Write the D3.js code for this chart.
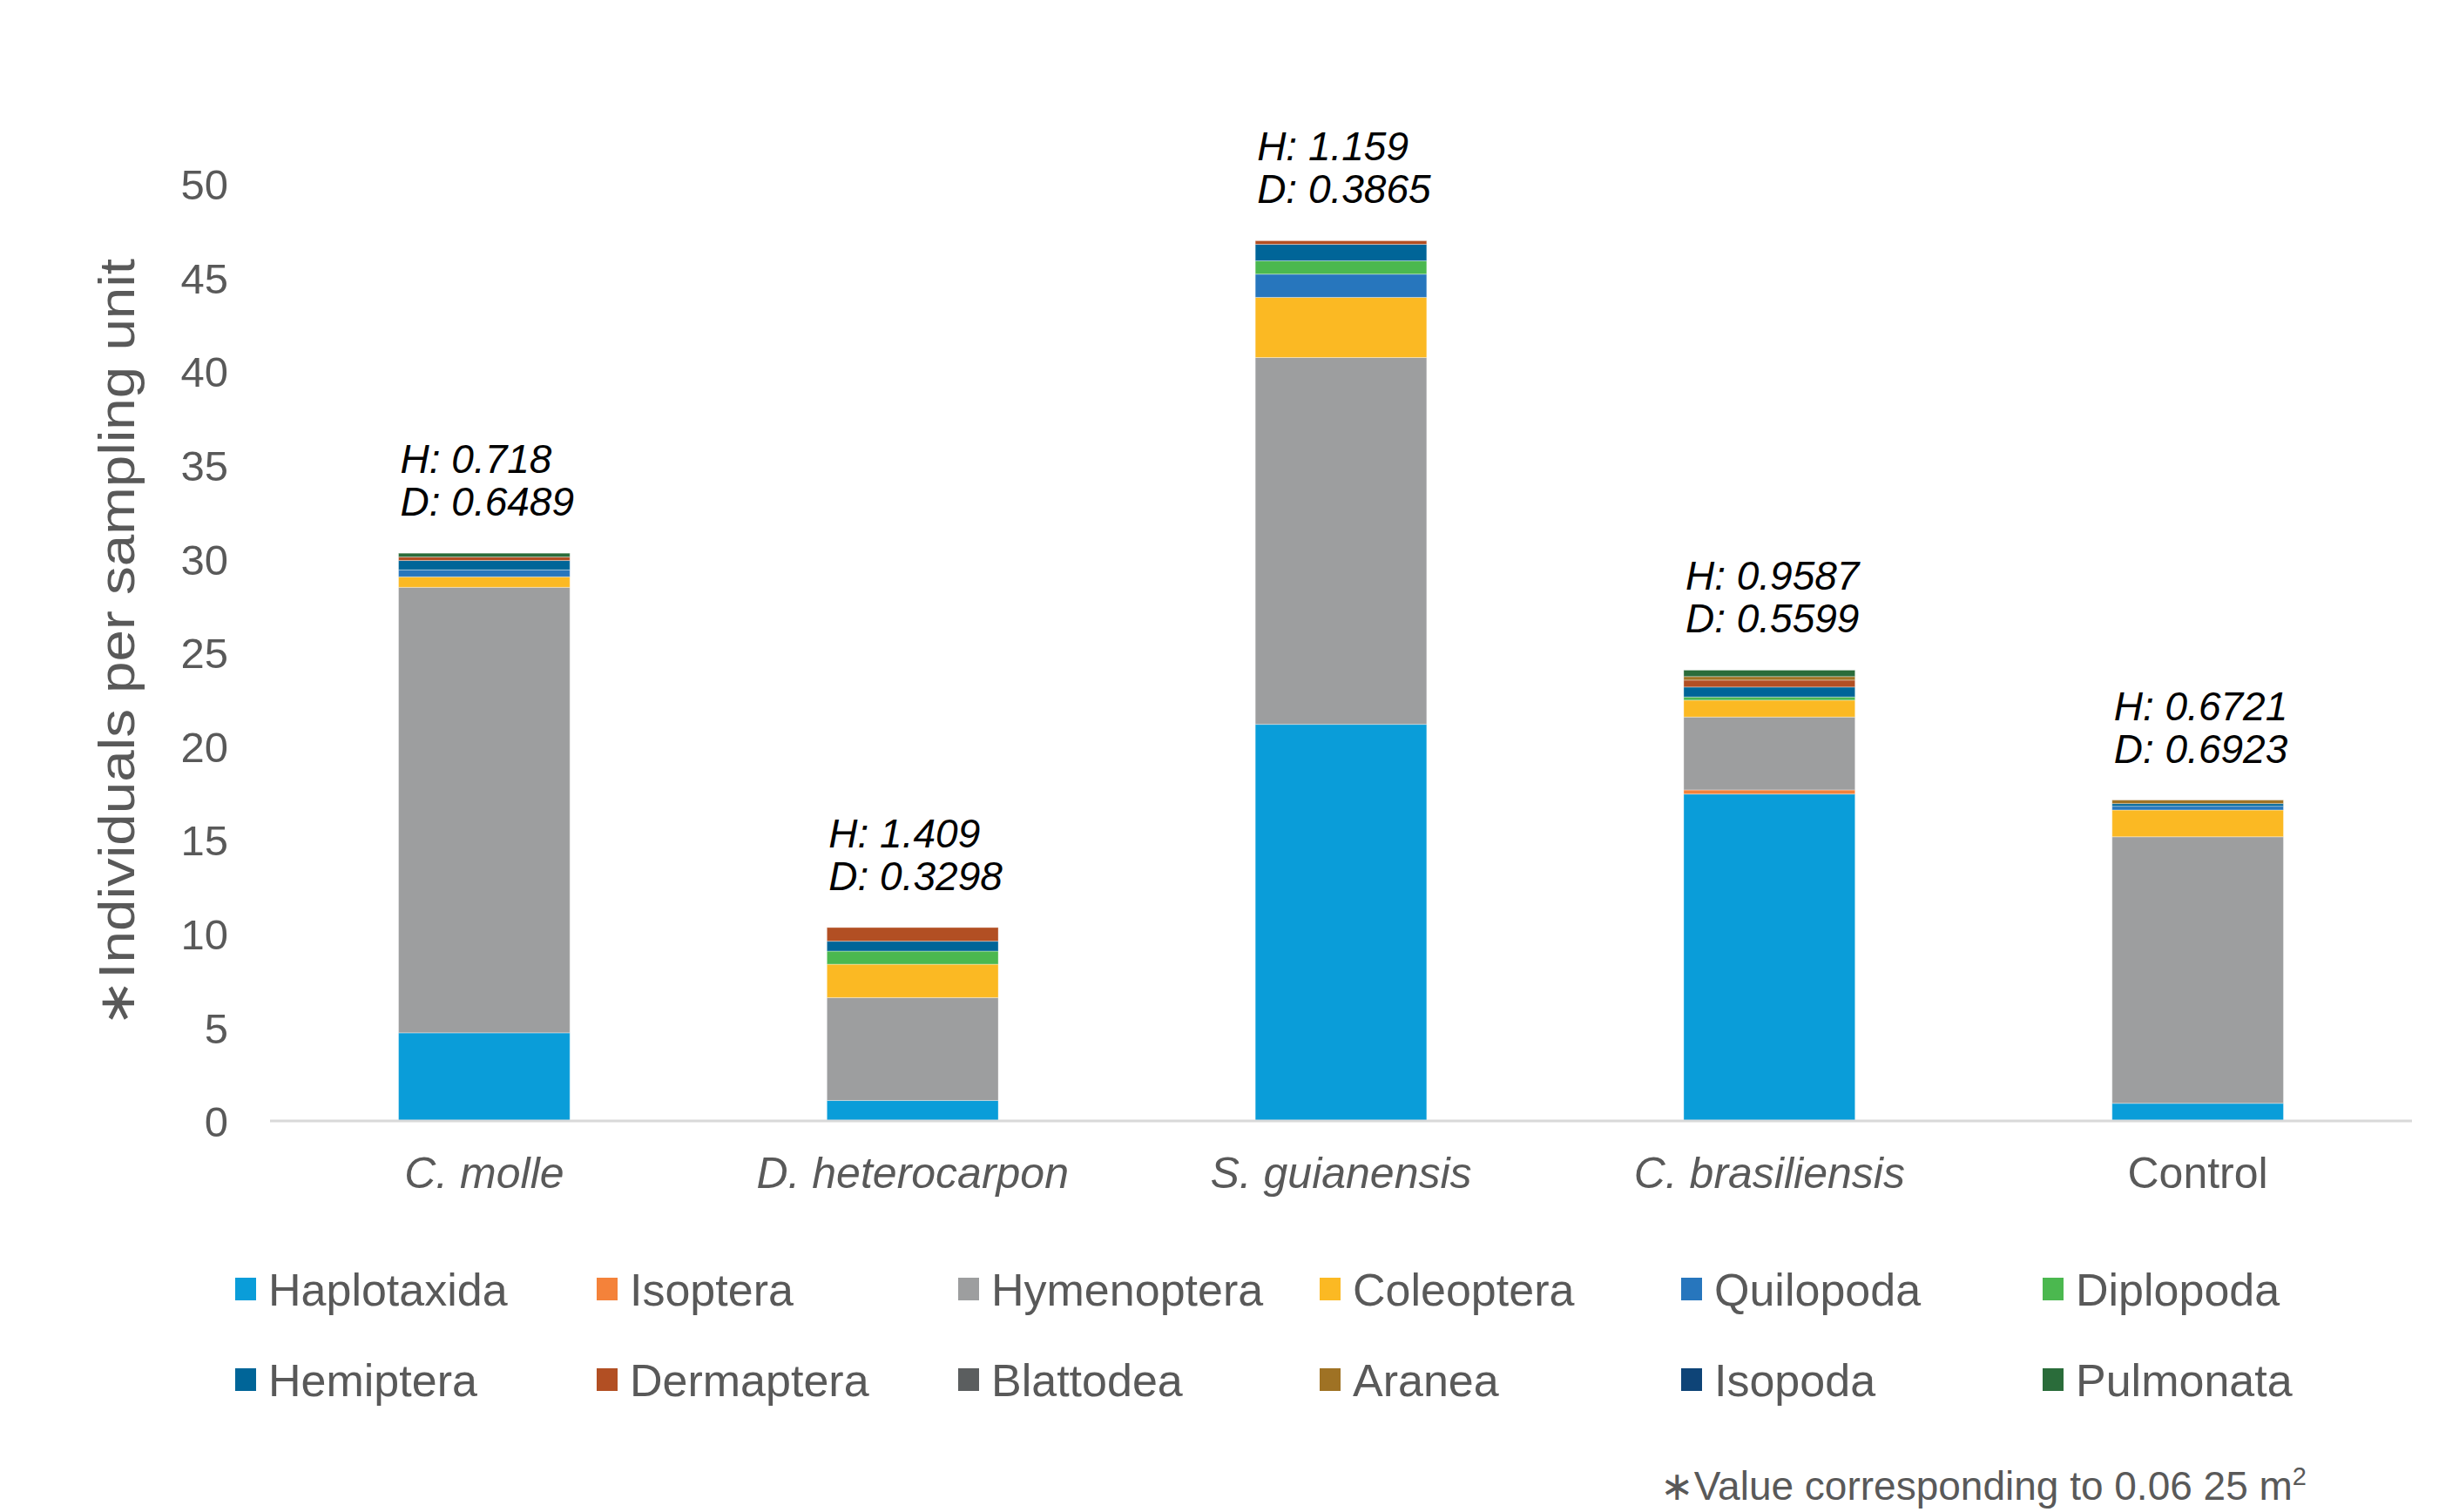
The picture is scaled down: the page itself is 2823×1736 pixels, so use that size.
<!DOCTYPE html>
<html>
<head>
<meta charset="utf-8">
<script src="https://cdn.jsdelivr.net/npm/d3@7"></script>
<style>
  body { margin: 0; background: #fff; }
  text { fill: #595959; }
</style>
</head>
<body>
<svg id="chart"></svg>
<script>
// plants and the orders found in each (individuals per sampling unit)
const plants = ["C. molle", "D. heterocarpon", "S. guianensis", "C. brasiliensis", "Control"];
const italicPlant = [true, true, true, true, false];

const orders = ["Haplotaxida", "Isoptera", "Hymenoptera", "Coleoptera", "Quilopoda", "Diplopoda",
                "Hemiptera", "Dermaptera", "Blattodea", "Aranea", "Isopoda", "Pulmonata"];
const orderColors = ["#0a9dd9", "#f4823a", "#9d9e9f", "#fbb923", "#2776bd", "#4bb84f",
                     "#006598", "#b24f23", "#5b5e5f", "#9f7224", "#0e4477", "#2a6c3a"];

const haplotaxida = [4.70, 1.09, 21.16, 17.44, 0.94];
const isoptera    = [0, 0, 0, 0.22, 0];
const hymenoptera = [23.77, 5.49, 19.57, 3.89, 14.22];
const coleoptera  = [0.56, 1.78, 3.21, 0.90, 1.43];
const quilopoda   = [0.37, 0, 1.24, 0, 0.20];
const diplopoda   = [0, 0.70, 0.71, 0.17, 0];
const hemiptera   = [0.50, 0.53, 0.88, 0.53, 0.14];
const dermaptera  = [0.19, 0.73, 0.19, 0.37, 0];
const blattodea   = [0, 0, 0, 0, 0];
const aranea      = [0, 0, 0, 0.19, 0.19];
const isopoda     = [0, 0, 0, 0, 0];
const pulmonata   = [0.20, 0, 0, 0.34, 0];

// diversity indices shown above bars
const shannonH = ["0.718", "1.409", "1.159", "0.9587", "0.6721"];
const simpsonD = ["0.6489", "0.3298", "0.3865", "0.5599", "0.6923"];

const yTicks = [0, 5, 10, 15, 20, 25, 30, 35, 40, 45, 50];

const W = 2823, H = 1736;
const margin = {top: 211, right: 54, bottom: 449, left: 310};

const series = [haplotaxida, isoptera, hymenoptera, coleoptera, quilopoda, diplopoda,
                hemiptera, dermaptera, blattodea, aranea, isopoda, pulmonata];

const table = plants.map((p, i) => {
    const row = {plant: p};
    orders.forEach((o, j) => row[o] = series[j][i]);
    return row;
});

const svg = d3.select("#chart").attr("width", W).attr("height", H)
    .style("font-family", "'Liberation Sans', Arial, sans-serif");

const x = d3.scaleBand()
    .domain(plants)
    .range([margin.left, W - margin.right])
    .paddingInner(0.6)
    .paddingOuter(0.3);

const y = d3.scaleLinear()
    .domain([0, 50])
    .range([1287, margin.top]);

const stacked = d3.stack().keys(orders)(table);
const color = d3.scaleOrdinal().domain(orders).range(orderColors);

// bars
svg.append("g").selectAll("g")
    .data(stacked)
    .join("g")
    .attr("fill", d => color(d.key))
    .selectAll("rect")
    .data(d => d)
    .join("rect")
    .attr("x", d => x(d.data.plant))
    .attr("y", d => y(d[1]))
    .attr("width", x.bandwidth())
    .attr("height", d => Math.max(0, y(d[0]) - y(d[1])))
    .attr("stroke", "#ffffff")
    .attr("stroke-opacity", 0.35)
    .attr("stroke-width", 1);

// baseline
svg.append("line")
    .attr("x1", margin.left).attr("x2", W - margin.right)
    .attr("y1", y(0)).attr("y2", y(0))
    .attr("stroke", "#d9d9d9").attr("stroke-width", 3);

// y axis labels only
const yAxis = svg.append("g")
    .attr("transform", `translate(${262},0)`)
    .call(d3.axisLeft(y).tickValues(yTicks).tickSize(0).tickPadding(0));
yAxis.select(".domain").remove();
yAxis.selectAll("text")
    .attr("font-size", 49)
    .attr("fill", "#595959")
    .attr("dy", "0.36em")
    .style("font-family", "'Liberation Sans', Arial, sans-serif");

// x axis labels
svg.append("g").selectAll("text")
    .data(plants)
    .join("text")
    .attr("x", d => x(d) + x.bandwidth() / 2)
    .attr("y", 1364)
    .attr("text-anchor", "middle")
    .attr("font-size", 50)
    .attr("font-style", (d, i) => italicPlant[i] ? "italic" : "normal")
    .text(d => d);

// H and D annotations
const totals = table.map(r => d3.sum(orders, o => r[o]));
const ann = svg.append("g").selectAll("g")
    .data(plants)
    .join("g")
    .attr("transform", (d, i) => `translate(${x(d) + 2},${y(totals[i])})`);
ann.append("text")
    .attr("y", -92)
    .attr("font-size", 46)
    .attr("font-style", "italic")
    .style("fill", "#000")
    .text((d, i) => "H: " + shannonH[i]);
ann.append("text")
    .attr("y", -43)
    .attr("font-size", 46)
    .attr("font-style", "italic")
    .style("fill", "#000")
    .text((d, i) => "D: " + simpsonD[i]);

// y axis title
svg.append("text")
    .attr("transform", `translate(154,${738}) rotate(-90)`)
    .attr("text-anchor", "middle")
    .attr("font-size", 58)
    .attr("textLength", 882)
    .attr("lengthAdjust", "spacingAndGlyphs")
    .text("\u2217Individuals per sampling unit");

// legend
const legend = svg.append("g").selectAll("g")
    .data(orders)
    .join("g")
    .attr("transform", (d, i) => `translate(${270 + (i % 6) * 415},${(i < 6 ? 1480 : 1584)})`);
legend.append("rect")
    .attr("x", 0).attr("y", -13)
    .attr("width", 24).attr("height", 26)
    .attr("fill", d => color(d));
legend.append("text")
    .attr("x", 38).attr("y", 0)
    .attr("dy", "0.36em")
    .attr("font-size", 52)
    .text(d => d);

// footnote
const foot = svg.append("text")
    .attr("x", 2648).attr("y", 1722)
    .attr("text-anchor", "end")
    .attr("font-size", 46);
foot.append("tspan").text("\u2217Value corresponding to 0.06 25 m");
foot.append("tspan").attr("font-size", 29).attr("dy", -17).text("2");
</script>
</body>
</html>
